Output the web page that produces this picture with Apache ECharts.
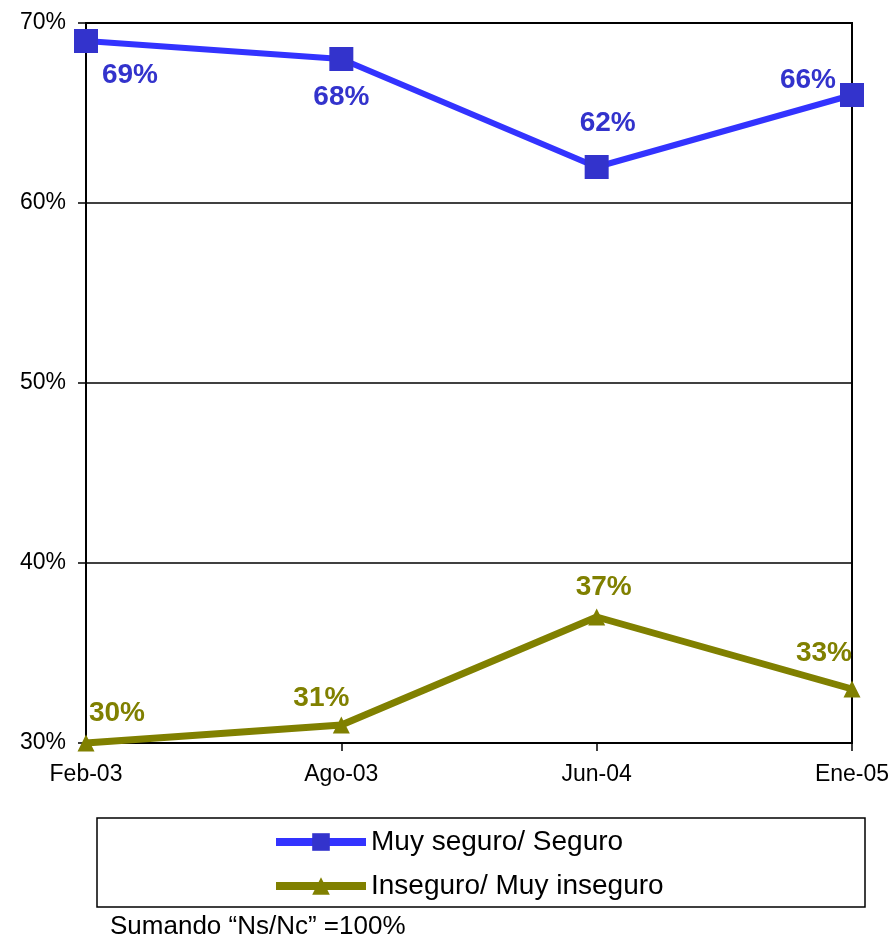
<!DOCTYPE html>
<html>
<head>
<meta charset="utf-8">
<script src="https://cdn.jsdelivr.net/npm/echarts@6/dist/echarts.min.js"></script>
<style>html,body{margin:0;padding:0;background:#fff;}#c{width:894px;height:940px;}</style>
</head>
<body>
<div id="c"></div>
<script>
const categories = ['Feb-03', 'Ago-03', 'Jun-04', 'Ene-05'];
const seriesNames = ['Muy seguro/ Seguro', 'Inseguro/ Muy inseguro'];
const seguroValues = [69, 68, 62, 66];
const inseguroValues = [30, 31, 37, 33];
const yTicks = [30, 40, 50, 60, 70];
const footnote = 'Sumando \u201cNs/Nc\u201d =100%';

// label placement (styling, not data)
const seguroOffsets = [[44, 34], [0, 38], [11, -44], [-44, -15]];
const inseguroOffsets = [[31, -30], [-20, -27], [7, -30], [-28, -36]];

const BLUE = '#3333CC';
const BLUE_LINE = '#3333FF';
const OLIVE = '#808000';
const FONT = "'Liberation Sans', Arial, sans-serif";

function mk(values, offsets) {
  return values.map((v, i) => ({
    value: v,
    label: { offset: offsets[i] }
  }));
}

const chart = echarts.init(document.getElementById('c'), null, { renderer: 'canvas' });
chart.setOption({
  animation: false,
  backgroundColor: '#fff',
  grid: { left: 86, right: 42, top: 23, bottom: 197, show: true, borderColor: '#000', borderWidth: 2, backgroundColor: 'transparent' },
  xAxis: {
    type: 'category',
    data: categories,
    boundaryGap: false,
    axisLine: { lineStyle: { color: '#000', width: 2 } },
    axisTick: { show: true, alignWithLabel: true, length: 8, lineStyle: { color: '#000', width: 1.5 } },
    axisLabel: { color: '#000', fontSize: 23, fontFamily: FONT, margin: 20 },
    splitLine: { show: false }
  },
  yAxis: {
    type: 'value',
    min: yTicks[0],
    max: yTicks[yTicks.length - 1],
    interval: 10,
    axisLine: { show: true, lineStyle: { color: '#000', width: 2 } },
    axisTick: { show: true, length: 8, lineStyle: { color: '#000', width: 1.5 } },
    axisLabel: { color: '#000', fontSize: 23, fontFamily: FONT, margin: 20, formatter: v => v + '%' },
    splitLine: { show: true, lineStyle: { color: '#000', width: 1.5 } }
  },
  legend: {
    orient: 'vertical',
    left: 272,
    top: 828,
    padding: 0,
    itemWidth: 90,
    itemHeight: 22,
    itemGap: 16,
    textStyle: { color: '#000', fontSize: 28, fontFamily: FONT },
    data: [
      { name: seriesNames[0], lineStyle: { width: 8, color: BLUE_LINE } },
      { name: seriesNames[1], lineStyle: { width: 8, color: OLIVE } }
    ]
  },
  graphic: [
    { type: 'rect', shape: { x: 97, y: 818, width: 768, height: 89 }, style: { fill: 'none', stroke: '#000', lineWidth: 1.5 }, silent: true, z: -1 },
    { type: 'text', left: 110, top: 914, style: { text: footnote, fill: '#000', font: "26px " + FONT } }
  ],
  series: [
    {
      name: seriesNames[0],
      type: 'line',
      data: mk(seguroValues, seguroOffsets),
      symbol: 'rect',
      symbolSize: 24,
      lineStyle: { color: BLUE_LINE, width: 6 },
      itemStyle: { color: BLUE },
      label: { show: true, position: 'inside', formatter: p => p.value + '%', color: BLUE, fontSize: 28, fontWeight: 'bold', fontFamily: FONT },
      z: 3
    },
    {
      name: seriesNames[1],
      type: 'line',
      data: mk(inseguroValues, inseguroOffsets),
      symbol: 'triangle',
      symbolSize: 17,
      lineStyle: { color: OLIVE, width: 7 },
      itemStyle: { color: OLIVE },
      label: { show: true, position: 'inside', formatter: p => p.value + '%', color: OLIVE, fontSize: 28, fontWeight: 'bold', fontFamily: FONT },
      z: 3
    }
  ]
});
</script>
</body>
</html>
